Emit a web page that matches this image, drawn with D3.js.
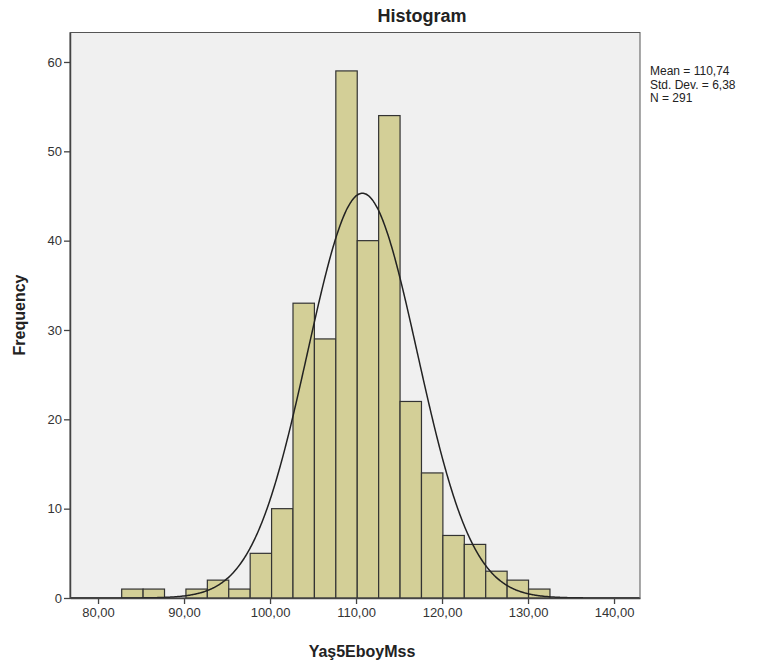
<!DOCTYPE html>
<html><head><meta charset="utf-8">
<script src="https://cdn.jsdelivr.net/npm/d3@7"></script>
<style>body{margin:0;background:#fff;font-family:"Liberation Sans",Arial,sans-serif;}</style>
</head><body><svg id="c" width="759" height="668"></svg>
<script>
const binStart = 82.75;
const binWidth = 2.49;
const counts = [1,1,0,1,2,1,5,10,33,29,59,40,54,22,14,7,6,3,2,1];
const xTicks = [80,90,100,110,120,130,140];
const yTicks = [0,10,20,30,40,50,60];
const stats = {mean:110.74, sd:6.38, n:291};
const legendLines = ["Mean = 110,74","Std. Dev. = 6,38","N = 291"];

const svg = d3.select("#c");
const L=70, R=640, T=32.5, B=598;
const x = d3.scaleLinear().domain([76.74,143.02]).range([L,R]);
const y = d3.scaleLinear().domain([0,63.3]).range([B,T]);

svg.append("rect").attr("x",L).attr("y",T).attr("width",R-L).attr("height",B-T)
  .attr("fill","#f0f0f0").attr("stroke","#555").attr("stroke-width",1);

const bins = counts.map((c,i)=>({x0:binStart+i*binWidth,x1:binStart+(i+1)*binWidth,c}));
svg.append("g").selectAll("rect").data(bins.filter(d=>d.c>0)).join("rect")
  .attr("x",d=>x(d.x0)).attr("width",d=>x(d.x1)-x(d.x0))
  .attr("y",d=>y(d.c)).attr("height",d=>y(0)-y(d.c))
  .attr("fill","#d3cf97").attr("stroke","#333").attr("stroke-width",1.2);

const pdf = v => stats.n*binWidth/(stats.sd*Math.sqrt(2*Math.PI))*Math.exp(-0.5*((v-stats.mean)/stats.sd)**2);
const xs = d3.range(x.domain()[0], x.domain()[1], 0.1);
svg.append("path").datum(xs)
  .attr("d", d3.line().x(v=>x(v)).y(v=>y(pdf(v))).curve(d3.curveBasis))
  .attr("fill","none").attr("stroke","#222").attr("stroke-width",1.5);

// axes
const xa = svg.append("g").attr("transform",`translate(0,${B})`)
  .call(d3.axisBottom(x).tickValues(xTicks).tickSize(6).tickSizeOuter(0).tickPadding(4).tickFormat(d=>d.toFixed(2).replace(".",",")));
const ya = svg.append("g").attr("transform",`translate(${L},0)`)
  .call(d3.axisLeft(y).tickValues(yTicks).tickSize(6).tickSizeOuter(0).tickPadding(2));
[xa,ya].forEach(a=>{
  a.select(".domain").attr("stroke","#444").attr("stroke-width",1.5);
  a.selectAll(".tick line").attr("stroke","#444").attr("stroke-width",1.3);
  a.selectAll("text").attr("font-family","Liberation Sans, Arial, sans-serif").attr("font-size",13).attr("fill","#333");
});

svg.append("text").attr("x",422).attr("y",22).attr("text-anchor","middle")
  .attr("font-size",18).attr("font-weight","bold").attr("fill","#222").text("Histogram");
svg.append("text").attr("x",362).attr("y",657).attr("text-anchor","middle")
  .attr("font-size",16).attr("font-weight","bold").attr("fill","#222").text("Yaş5EboyMss");
svg.append("text").attr("transform","translate(25,315) rotate(-90)").attr("text-anchor","middle")
  .attr("font-size",16).attr("font-weight","bold").attr("fill","#222").text("Frequency");

svg.append("g").selectAll("text").data(legendLines).join("text")
  .attr("x",650).attr("y",(d,i)=>75+i*13.5).attr("font-size",12).attr("fill","#222").text(d=>d);
</script></body></html>
